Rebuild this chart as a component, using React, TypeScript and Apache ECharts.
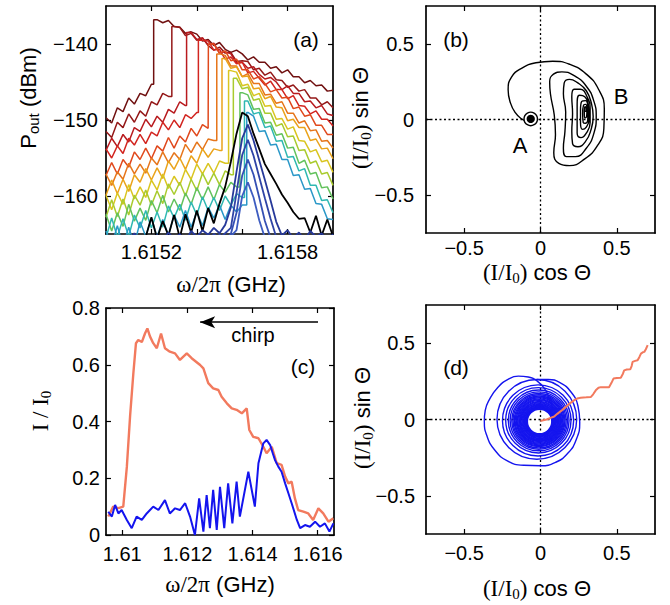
import React, { useEffect, useRef } from 'react';
import * as echarts from 'echarts';

const SANS = "'Liberation Sans', Arial, Helvetica, sans-serif";
const SERIF = "'Liberation Serif', 'Times New Roman', serif";

// ---------- Panel (a): spectra ----------
const aFreqStart = 1.615;
const aFreqStep = 0.000025; // 41 samples from 1.6150 to 1.6160 GHz
const aTraceColors = ['#701010', '#941818', '#b81a1e', '#d22520', '#e0481c', '#e6761c', '#eaa31a', '#d9c520', '#a9cb2e', '#62c25c', '#2fb8b2', '#2a98c8'];
const aJumps = [1.61521, 1.61529, 1.615355, 1.615407, 1.615451, 1.615488, 1.615511, 1.61554, 1.615561, 1.61559, 1.61561, 1.61562];
const aTrace1 = [-149.7, -150.4, -148.4, -148.9, -147.1, -147.9, -146.5, -146.8, -145.3, -136.8, -137.2, -136.9, -137.7, -137.8, -138.6, -138.4, -138.7, -139.6, -139.4, -140.2, -139.8, -140.7, -141.1, -140.8, -141.3, -142.1, -141.7, -142.4, -142.4, -143.2, -143.0, -143.8, -143.4, -144.3, -144.3, -145.1, -144.8, -145.5, -145.4, -146.2, -146.1];
const aTrace2 = [-151.5, -152.3, -150.3, -151.0, -149.2, -150.3, -148.8, -149.5, -147.6, -148.0, -146.5, -146.9, -137.7, -137.8, -138.9, -138.6, -139.5, -139.2, -140.2, -140.8, -140.4, -141.2, -141.1, -142.3, -142.2, -142.3, -143.4, -143.2, -144.1, -143.7, -144.7, -144.8, -145.7, -145.4, -146.2, -146.0, -147.1, -147.1, -148.0, -147.6, -148.4];
const aTrace3 = [-154.0, -152.4, -153.5, -151.9, -152.9, -151.0, -151.5, -149.9, -150.9, -149.5, -150.3, -148.6, -149.1, -147.6, -148.1, -138.5, -139.4, -139.2, -140.1, -139.9, -141.2, -141.0, -141.3, -142.5, -142.4, -143.2, -143.0, -144.0, -144.6, -144.4, -145.0, -146.0, -145.5, -146.5, -146.5, -147.6, -147.5, -148.4, -148.1, -149.2, -149.4];
const aTrace4 = [-153.8, -155.0, -153.4, -154.4, -152.4, -153.3, -151.9, -153.1, -151.6, -152.1, -150.3, -151.3, -150.0, -151.0, -149.3, -149.8, -149.0, -139.5, -139.6, -140.8, -140.7, -142.0, -141.7, -142.6, -142.4, -143.8, -143.6, -144.5, -145.4, -144.9, -146.0, -146.0, -147.2, -146.8, -148.1, -148.2, -149.2, -148.8, -149.9, -149.9, -150.8];
const aTrace5 = [-157.3, -155.6, -157.1, -155.2, -156.2, -154.2, -155.2, -153.7, -155.1, -153.4, -154.1, -152.3, -153.7, -152.1, -152.9, -151.1, -152.1, -150.6, -151.1, -140.0, -141.2, -140.9, -142.2, -142.0, -143.4, -143.4, -144.6, -144.3, -145.2, -146.3, -146.0, -147.1, -147.0, -148.5, -148.3, -149.5, -149.3, -150.7, -150.7, -151.9, -151.9];
const aTrace6 = [-157.1, -158.6, -156.8, -157.8, -155.7, -157.1, -155.8, -157.0, -155.0, -155.9, -154.2, -155.6, -154.3, -155.2, -153.2, -154.3, -152.9, -153.9, -152.5, -152.7, -141.3, -141.5, -142.9, -142.9, -144.3, -143.9, -145.2, -145.2, -146.7, -146.6, -147.8, -147.6, -149.1, -149.1, -150.4, -150.1, -151.4, -151.3, -152.8, -152.7, -153.7];
const aTrace7 = [-159.9, -157.9, -159.7, -157.8, -159.4, -157.2, -158.2, -156.4, -157.9, -156.3, -157.7, -155.4, -156.5, -155.0, -156.5, -154.7, -155.7, -153.8, -154.9, -153.8, -154.0, -141.9, -143.2, -143.0, -144.3, -144.2, -145.9, -145.8, -147.2, -146.9, -148.3, -148.4, -150.1, -149.9, -151.0, -151.0, -152.7, -152.5, -153.8, -153.7, -155.1];
const aTrace8 = [-159.9, -161.8, -159.6, -161.1, -158.5, -160.4, -158.8, -160.2, -157.9, -159.2, -157.1, -159.0, -157.4, -158.6, -156.5, -157.8, -155.8, -157.1, -155.7, -157.0, -155.4, -155.7, -143.5, -143.7, -145.5, -145.3, -146.8, -146.5, -148.2, -148.1, -149.9, -149.8, -151.2, -150.9, -152.7, -152.8, -154.2, -153.9, -155.5, -155.3, -156.9];
const aTrace9 = [-162.8, -160.5, -162.7, -160.4, -162.5, -159.9, -161.2, -159.2, -161.2, -159.3, -161.0, -158.4, -159.8, -158.2, -160.0, -157.8, -159.3, -157.0, -158.5, -157.0, -158.5, -156.7, -157.2, -144.5, -145.9, -145.7, -147.4, -147.2, -149.1, -149.1, -150.8, -150.5, -152.2, -152.1, -154.0, -153.9, -155.7, -155.4, -157.1, -156.9, -158.6];
const aTrace10 = [-162.4, -164.6, -162.2, -164.0, -161.1, -163.3, -161.6, -163.2, -160.6, -162.2, -159.9, -162.1, -160.4, -161.9, -159.6, -161.1, -158.9, -160.5, -158.8, -160.5, -158.5, -159.5, -158.2, -158.8, -146.4, -146.7, -148.6, -148.5, -150.4, -150.3, -152.0, -151.8, -153.7, -153.6, -155.7, -155.3, -157.1, -156.9, -158.9, -158.8, -160.4];
const aTrace11 = [-165.5, -162.9, -165.4, -163.0, -165.3, -162.5, -164.2, -161.9, -164.2, -162.1, -164.1, -161.3, -162.9, -161.1, -163.2, -160.8, -162.5, -160.1, -161.9, -160.2, -161.9, -160.0, -161.2, -159.7, -160.2, -147.5, -149.2, -149.0, -151.0, -150.8, -152.8, -152.7, -154.9, -154.8, -156.7, -156.4, -158.6, -158.6, -160.6, -160.5, -162.2];
const aTrace12 = [-164.6, -166.6, -163.9, -166.6, -164.1, -166.4, -163.4, -165.3, -162.9, -165.4, -163.1, -165.2, -162.5, -164.1, -161.9, -164.1, -162.1, -163.9, -161.5, -162.9, -161.2, -163.1, -161.2, -162.1, -161.2, -149.0, -149.5, -151.5, -151.4, -153.3, -153.2, -155.2, -155.2, -157.3, -157.2, -159.1, -159.0, -161.0, -161.1, -163.0, -163.1];
const aTraces = [aTrace1, aTrace2, aTrace3, aTrace4, aTrace5, aTrace6, aTrace7, aTrace8, aTrace9, aTrace10, aTrace11, aTrace12];

const aPeakColors = ['#000000', '#27399a', '#2f44a6', '#3550b4', '#3d5cc0'];
const aBlack = [-166, -165.5, -166, -165.8, -166, -165.2, -166, -165.4, -162.8, -165.6, -163.3, -165.2, -162.5, -165.5, -162.4, -164.8, -161.9, -164.6, -161.6, -163.6, -161.0, -158.8, -155.5, -151.8, -149.0, -149.5, -151.8, -153.8, -155.8, -157.1, -158.4, -159.8, -160.9, -162.1, -163.0, -162.9, -164.8, -162.6, -165.2, -163.1, -165.3];
const aBlue1 = [-166, -165.2, -166, -165.6, -166, -164.9, -166, -165.5, -166, -165.1, -166, -164.8, -165.7, -165.0, -166, -164.6, -165.4, -164.5, -165.1, -164.2, -164.9, -163.8, -161.5, -156.8, -152.4, -150.6, -152.7, -155.3, -157.9, -160.6, -163.4, -165.2, -164.5, -165.6, -164.8, -165.8, -164.6, -165.4, -164.9, -165.9, -165.0];
const aBlue2 = [-166, -166, -166, -166, -166, -166, -166, -166, -166, -166, -166, -166, -166, -165.8, -166, -165.5, -166, -165.3, -166, -165.0, -165.6, -164.9, -164.2, -159.6, -154.6, -152.6, -154.7, -157.5, -160.3, -163.0, -165.4, -166, -165.5, -166, -165.7, -166, -165.2, -166, -165.8, -166, -165.4];
const aBlue3 = [-166, -166, -166, -166, -166, -166, -166, -166, -166, -166, -166, -166, -166, -166, -166, -166, -165.6, -166, -165.3, -166, -165.1, -165.7, -165.0, -162.2, -157.3, -155.2, -157.2, -160.2, -163.3, -165.5, -166, -165.6, -166, -166, -165.8, -166, -166, -165.5, -166, -166, -166];
const aBlue4 = [-166, -166, -166, -166, -166, -166, -166, -166, -166, -166, -166, -166, -166, -166, -166, -166, -166, -166, -165.7, -166, -165.5, -166, -165.3, -164.5, -160.0, -158.2, -160.2, -163.2, -165.5, -166, -166, -166, -166, -166, -166, -166, -166, -166, -166, -166, -166];
const aPeaks = [aBlack, aBlue1, aBlue2, aBlue3, aBlue4];

// ---------- Panel (b): trajectory A -> B ----------
const bSpiralX = [-0.09, -0.125, -0.165, -0.197, -0.212, -0.19, -0.125, -0.03, 0.08, 0.19, 0.3, 0.38, 0.418, 0.415, 0.375, 0.29, 0.19, 0.12, 0.087, 0.098, 0.09, 0.065, 0.06, 0.085, 0.14,
  0.22, 0.3, 0.35, 0.365, 0.35, 0.3, 0.23, 0.17, 0.15, 0.16, 0.165, 0.15, 0.155, 0.19,
  0.24, 0.3, 0.335, 0.345, 0.33, 0.295, 0.245, 0.21, 0.205, 0.21, 0.205, 0.22,
  0.26, 0.305, 0.325, 0.325, 0.3, 0.265, 0.24, 0.24, 0.24, 0.255,
  0.29, 0.315, 0.318, 0.3, 0.275, 0.262, 0.262, 0.27,
  0.295, 0.31, 0.31, 0.295, 0.28, 0.276, 0.282,
  0.297, 0.304, 0.302, 0.29, 0.287, 0.292, 0.298, 0.296];
const bSpiralY = [-0.012, 0.005, 0.045, 0.11, 0.197, 0.28, 0.338, 0.375, 0.385, 0.365, 0.3, 0.2, 0.07, -0.06, -0.17, -0.26, -0.305, -0.29, -0.22, -0.1, 0.03, 0.17, 0.25, 0.3, 0.315,
  0.29, 0.22, 0.12, 0.02, -0.09, -0.19, -0.245, -0.245, -0.19, -0.08, 0.05, 0.17, 0.24, 0.265,
  0.245, 0.19, 0.1, 0.02, -0.07, -0.145, -0.18, -0.16, -0.08, 0.04, 0.15, 0.2,
  0.2, 0.15, 0.07, -0.02, -0.09, -0.12, -0.09, 0.0, 0.1, 0.16,
  0.15, 0.08, 0.0, -0.05, -0.065, -0.02, 0.06, 0.12,
  0.125, 0.07, 0.01, -0.025, -0.02, 0.04, 0.095,
  0.1, 0.06, 0.02, 0.01, 0.05, 0.085, 0.07, 0.05];
const bPointA = [-0.064, 0.004];
const bRingA = [0.044, 0.027]; // ring radius, dot radius

// ---------- Panel (c): I/I0 vs frequency ----------
const cOrangeX = [1.60957, 1.60972, 1.60988, 1.61003, 1.61014, 1.61024, 1.61034, 1.61042, 1.61049, 1.6106, 1.6107, 1.61077, 1.61085, 1.61095, 1.61106, 1.61119, 1.61131, 1.61146, 1.61162, 1.61177, 1.61198, 1.61213, 1.61239, 1.61249, 1.61264, 1.61279, 1.61295, 1.61305, 1.61321, 1.61336, 1.61351, 1.61367, 1.61382, 1.6139, 1.61402, 1.61418, 1.61433, 1.61443, 1.61459, 1.61474, 1.61489, 1.615, 1.6151, 1.6152, 1.6153, 1.6154, 1.61556, 1.61571, 1.61586, 1.61602, 1.61617, 1.61633, 1.61648];
const cOrangeY = [0.065, 0.1, 0.095, 0.1, 0.24, 0.42, 0.57, 0.676, 0.687, 0.68, 0.711, 0.728, 0.7, 0.676, 0.658, 0.71, 0.658, 0.646, 0.64, 0.617, 0.64, 0.623, 0.599, 0.587, 0.535, 0.517, 0.511, 0.487, 0.464, 0.446, 0.441, 0.429, 0.446, 0.37, 0.346, 0.341, 0.311, 0.288, 0.311, 0.253, 0.247, 0.206, 0.182, 0.188, 0.129, 0.088, 0.082, 0.076, 0.053, 0.094, 0.076, 0.047, 0.059];
const cBlueX = [1.60957, 1.60968, 1.60978, 1.60988, 1.60998, 1.61014, 1.61029, 1.61044, 1.6106, 1.61075, 1.61095, 1.61111, 1.61131, 1.61146, 1.61162, 1.61177, 1.61193, 1.61208, 1.61223, 1.61236, 1.61249, 1.61259, 1.61269, 1.61279, 1.6129, 1.613, 1.61313, 1.61325, 1.61338, 1.61351, 1.61361, 1.61387, 1.61407, 1.61418, 1.61433, 1.61443, 1.61454, 1.61462, 1.61469, 1.61479, 1.61489, 1.615, 1.6151, 1.6152, 1.61536, 1.61546, 1.61561, 1.61576, 1.61592, 1.61607, 1.61622, 1.61636, 1.61648];
const cBlueY = [0.082, 0.065, 0.106, 0.076, 0.088, 0.053, 0.024, 0.065, 0.053, 0.076, 0.1, 0.088, 0.123, 0.076, 0.094, 0.088, 0.112, 0.065, 0.0, 0.129, 0.012, 0.141, 0.024, 0.159, 0.018, 0.17, 0.024, 0.182, 0.041, 0.188, 0.065, 0.223, 0.1, 0.253, 0.323, 0.335, 0.317, 0.288, 0.264, 0.241, 0.223, 0.182, 0.147, 0.112, 0.053, 0.024, 0.035, 0.029, 0.047, 0.029, 0.041, 0.012, 0.041];
const cChirpArrow = [[1.61601, 0.75], [1.61239, 0.75]];

// ---------- Panel (d): phase-space trajectories ----------
const dRedX = [0.0, 0.011, 0.04, 0.066, 0.09, 0.11, 0.137, 0.164, 0.19, 0.219, 0.24, 0.263, 0.3, 0.329, 0.345, 0.362, 0.38, 0.395, 0.42, 0.449, 0.465, 0.478, 0.5, 0.526, 0.54, 0.548, 0.565, 0.588, 0.597, 0.603, 0.62, 0.636, 0.648, 0.658, 0.67, 0.68, 0.69, 0.702];
const dRedY = [-0.01, -0.007, 0.0, 0.011, 0.02, 0.037, 0.058, 0.081, 0.104, 0.125, 0.137, 0.143, 0.145, 0.147, 0.165, 0.191, 0.208, 0.212, 0.211, 0.212, 0.24, 0.268, 0.272, 0.274, 0.3, 0.322, 0.327, 0.329, 0.35, 0.377, 0.384, 0.388, 0.41, 0.432, 0.44, 0.443, 0.46, 0.487];
const dOuterX = [0.066, 0.035, -0.02, -0.08, -0.145, -0.21, -0.28, -0.335, -0.362, -0.368, -0.35, -0.3, -0.22, -0.11, 0.0, 0.1, 0.18, 0.235, 0.257, 0.245, 0.2, 0.13, 0.05, -0.024];
const dOuterY = [0.103, 0.19, 0.25, 0.278, 0.284, 0.265, 0.21, 0.13, 0.06, -0.01, -0.11, -0.2, -0.27, -0.3, -0.303, -0.28, -0.22, -0.13, -0.02, 0.09, 0.18, 0.24, 0.262, 0.262];
const dRingCx = [-0.024, -0.016, -0.014, -0.012, -0.011, -0.01, -0.01, -0.009, -0.009, -0.008, -0.008, -0.008, -0.007, -0.007, -0.007, -0.007, -0.006, -0.006, -0.006, -0.006, -0.006, -0.006, -0.006, -0.006, -0.006];
const dRingCy = [0.001, -0.006, -0.005, -0.006, -0.007, -0.008, -0.008, -0.009, -0.009, -0.009, -0.01, -0.01, -0.01, -0.011, -0.011, -0.011, -0.011, -0.012, -0.012, -0.012, -0.012, -0.012, -0.013, -0.013, -0.013];
const dRingR = [0.261, 0.233, 0.214, 0.199, 0.188, 0.178, 0.17, 0.163, 0.157, 0.151, 0.145, 0.14, 0.135, 0.13, 0.125, 0.12, 0.115, 0.11, 0.105, 0.1, 0.096, 0.092, 0.088, 0.084, 0.08];

// ---------- Ticks ----------
const aXTicks = [1.6152, 1.6154, 1.6156, 1.6158];
const aXLabels = [1.6152, 1.6158];
const aYTicks = [-160, -150, -140];
const phaseTicks = [-0.5, 0, 0.5];
const cXTicks = [1.61, 1.612, 1.614, 1.616];
const cYTicks = [0, 0.2, 0.4, 0.6, 0.8];

const ORANGE = '#f27a5e';
const BLUE = '#1414ee';

const minusFmt = (v: number) => (v < 0 ? '\u2212' + String(-v) : String(v));

function frameAxes(g: number, xr: number[], yr: number[], xTicks: number[], xLabels: number[], yTicks: number[], yLabels: number[], xFmt: any, yFmt: any, xMargin: number, yMargin: number) {
  const line = { show: true, onZero: false, lineStyle: { color: '#000', width: 1.7 } };
  const tick = (vals: number[]) => ({ show: true, inside: true, length: 5, customValues: vals, lineStyle: { color: '#000', width: 1.2 } });
  const label = (vals: number[], fmt: any, margin: number) => ({ show: true, customValues: vals, formatter: fmt, color: '#000', fontSize: 20, fontFamily: SANS, margin });
  const base = { type: 'value', gridIndex: g, splitLine: { show: false }, axisLine: line };
  return {
    x: [
      { ...base, min: xr[0], max: xr[1], position: 'bottom', axisTick: tick(xTicks), axisLabel: label(xLabels, xFmt, xMargin) },
      { ...base, min: xr[0], max: xr[1], position: 'top', axisTick: tick(xTicks), axisLabel: { show: false } },
    ],
    y: [
      { ...base, min: yr[0], max: yr[1], position: 'left', axisTick: tick(yTicks), axisLabel: label(yLabels, yFmt, yMargin) },
      { ...base, min: yr[0], max: yr[1], position: 'right', axisTick: tick(yTicks), axisLabel: { show: false } },
    ],
  };
}

const nameRich = {
  n: { fontFamily: SANS, fontSize: 22, fill: '#000' },
  m: { fontFamily: SERIF, fontSize: 23, fill: '#000' },
  ms: { fontFamily: SERIF, fontSize: 15, fill: '#000', padding: [11, 0, 0, 0] },
  s: { fontFamily: SANS, fontSize: 15, fill: '#000', padding: [11, 0, 0, 0] },
};

function nameText(text: string, x: number, y: number, rotate: boolean) {
  return {
    type: 'text', x, y, rotation: rotate ? Math.PI / 2 : 0, z: 100, silent: true,
    style: { text, rich: nameRich, fontFamily: SANS, fontSize: 22, fill: '#000', align: 'center', verticalAlign: 'middle' },
  };
}
function plainText(text: string, x: number, y: number, size: number) {
  return { type: 'text', x, y, z: 100, silent: true, style: { text, fontFamily: SANS, fontSize: size, fill: '#000', align: 'center', verticalAlign: 'middle' } };
}

function buildOption() {
  const A = frameAxes(0, [1.615, 1.616], [-165, -135], aXTicks, aXLabels, aYTicks, aYTicks, (v: number) => v.toFixed(4), minusFmt, 8, 8);
  const B = frameAxes(1, [-0.75, 0.75], [-0.75, 0.75], phaseTicks, phaseTicks, phaseTicks, phaseTicks, minusFmt, minusFmt, 5, 12);
  const C = frameAxes(2, [1.6095, 1.6165], [0, 0.8], cXTicks, cXTicks, cYTicks, cYTicks, (v: number) => String(v), (v: number) => String(v), 9, 6);
  const D = frameAxes(3, [-0.75, 0.75], [-0.75, 0.75], phaseTicks, phaseTicks, phaseTicks, phaseTicks, minusFmt, minusFmt, 9, 11);

  const series: any[] = [];
  const lineBase = { type: 'line', showSymbol: false, symbol: 'none', silent: true, clip: true, animation: false };

  // (a)
  aTraces.forEach((ys, k) => {
    const J = aJumps[k];
    const data: number[][] = [];
    let jumped = false;
    ys.forEach((y, i) => {
      const x = aFreqStart + i * aFreqStep;
      if (!jumped && x > J) {
        data.push([J, ys[i - 1]]);
        data.push([J, y]);
        jumped = true;
      }
      data.push([x, y]);
    });
    series.push({ ...lineBase, xAxisIndex: 0, yAxisIndex: 0, data, lineStyle: { color: aTraceColors[k], width: 1.5 } });
  });
  aPeaks.forEach((ys, k) => {
    series.push({ ...lineBase, xAxisIndex: 0, yAxisIndex: 0, data: ys.map((y, i) => [aFreqStart + i * aFreqStep, y]), lineStyle: { color: aPeakColors[k], width: k === 0 ? 1.8 : 1.8 } });
  });

  // (b) and (d) dotted zero lines
  [2, 6].forEach((ax) => {
    series.push({ ...lineBase, xAxisIndex: ax, yAxisIndex: ax, data: [[-0.75, 0], [0.75, 0]], lineStyle: { color: '#000', width: 1.3, type: [2, 2.5] }, z: 1 });
    series.push({ ...lineBase, xAxisIndex: ax, yAxisIndex: ax, data: [[0, -0.75], [0, 0.75]], lineStyle: { color: '#000', width: 1.3, type: [2, 2.5] }, z: 1 });
  });

  // (b)
  series.push({ ...lineBase, xAxisIndex: 2, yAxisIndex: 2, smooth: 0.5, data: bSpiralX.map((x, i) => [x, bSpiralY[i]]), lineStyle: { color: '#000', width: 1.4 }, z: 3 });
  series.push({
    type: 'custom', xAxisIndex: 2, yAxisIndex: 2, silent: true, animation: false, z: 4,
    data: [[bPointA[0], bPointA[1], bRingA[0], bRingA[1]]],
    encode: { x: 0, y: 1 },
    renderItem: (_p: any, api: any) => {
      const c = api.coord([api.value(0), api.value(1)]);
      const r1 = api.size([api.value(2), api.value(2)])[0];
      const r2 = api.size([api.value(3), api.value(3)])[0];
      return {
        type: 'group', children: [
          { type: 'circle', shape: { cx: c[0], cy: c[1], r: r1 }, style: { fill: '#fff', stroke: '#000', lineWidth: 1.4 } },
          { type: 'circle', shape: { cx: c[0], cy: c[1], r: r2 }, style: { fill: '#000', stroke: 'none' } },
        ],
      };
    },
  });

  // (c)
  series.push({
    ...lineBase, xAxisIndex: 4, yAxisIndex: 4, data: cOrangeX.map((x, i) => [x, cOrangeY[i]]), lineStyle: { color: ORANGE, width: 2.4 }, z: 2,
    markLine: {
      silent: true, animation: false, symbol: ['none', 'arrow'], symbolSize: [9, 15], label: { show: false },
      lineStyle: { color: '#000', width: 1.5, type: 'solid' },
      data: [[{ coord: cChirpArrow[0] }, { coord: cChirpArrow[1] }]],
    },
  });
  series.push({ ...lineBase, xAxisIndex: 4, yAxisIndex: 4, data: cBlueX.map((x, i) => [x, cBlueY[i]]), lineStyle: { color: BLUE, width: 2 }, z: 3 });

  // (d)
  series.push({
    type: 'custom', xAxisIndex: 6, yAxisIndex: 6, silent: true, animation: false, z: 2, clip: true,
    data: dRingCx.map((cx, i) => [cx, dRingCy[i], dRingR[i]]),
    encode: { x: 0, y: 1 },
    renderItem: (_p: any, api: any) => {
      const c = api.coord([api.value(0), api.value(1)]);
      const s = api.size([api.value(2), api.value(2)]);
      return { type: 'ellipse', shape: { cx: c[0], cy: c[1], rx: s[0], ry: s[1] }, style: { fill: 'none', stroke: BLUE, lineWidth: 1.4 } };
    },
  });
  series.push({ ...lineBase, xAxisIndex: 6, yAxisIndex: 6, smooth: 0.5, data: dOuterX.map((x, i) => [x, dOuterY[i]]), lineStyle: { color: BLUE, width: 1.4 }, z: 2 });
  series.push({ ...lineBase, xAxisIndex: 6, yAxisIndex: 6, data: dRedX.map((x, i) => [x, dRedY[i]]), lineStyle: { color: ORANGE, width: 2 }, z: 3 });

  const S = '{m|(I/I}{ms|0}{m|)}';
  const graphic = [
    nameText('{n|P}{s|out}{n| (dBm)}', 28, 98, true),
    nameText('{m|\u03c9/2\u03c0}{n| (GHz)}', 231, 284, false),
    nameText(S + '{n| sin \u0398}', 360, 118, true),
    nameText(S + '{n| cos \u0398}', 537, 272, false),
    nameText('{m|I / I}{ms|0}', 40, 411, true),
    nameText('{m|\u03c9/2\u03c0}{n| (GHz)}', 220, 584, false),
    nameText(S + '{n| sin \u0398}', 362, 418, true),
    nameText(S + '{n| cos \u0398}', 537, 588, false),
    plainText('(a)', 306, 39, 21),
    plainText('(b)', 456, 39, 21),
    plainText('(c)', 303, 366, 21),
    plainText('(d)', 456, 367, 21),
    plainText('chirp', 253, 335, 20),
    plainText('A', 520, 145, 22),
    plainText('B', 621, 96, 22),
  ];

  return {
    animation: false,
    backgroundColor: '#fff',
    grid: [
      { left: 106, top: 6, width: 227, height: 228, containLabel: false, outerBoundsMode: 'none' },
      { left: 426, top: 6, width: 229, height: 227, containLabel: false, outerBoundsMode: 'none' },
      { left: 106, top: 308, width: 228, height: 227, containLabel: false, outerBoundsMode: 'none' },
      { left: 426, top: 305, width: 229, height: 229, containLabel: false, outerBoundsMode: 'none' },
    ],
    xAxis: [...A.x, ...B.x, ...C.x, ...D.x],
    yAxis: [...A.y, ...B.y, ...C.y, ...D.y],
    series,
    graphic,
  };
}

export default function App() {
  const ref = useRef<HTMLDivElement>(null);
  useEffect(() => {
    const chart = echarts.init(ref.current as HTMLDivElement, null, { renderer: 'svg' });
    chart.setOption(buildOption() as any);
    return () => chart.dispose();
  }, []);
  return <div ref={ref} style={{ position: 'absolute', left: 0, top: 0, width: 670, height: 605, background: '#fff' }} />;
}
